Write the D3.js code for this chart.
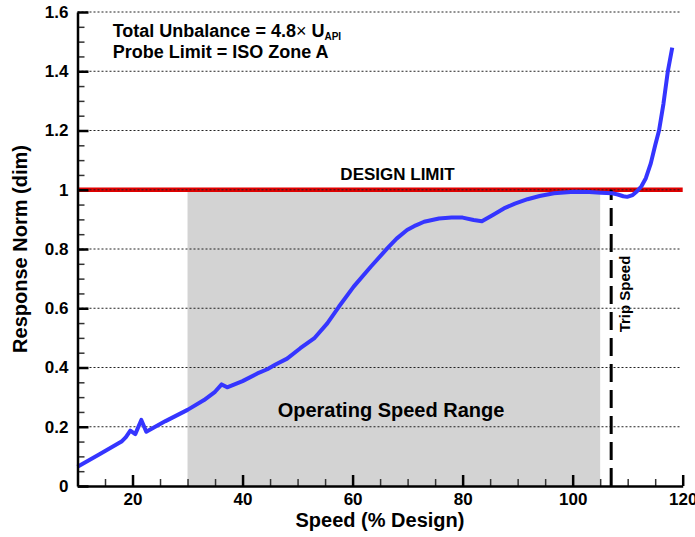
<!DOCTYPE html>
<html>
<head>
<meta charset="utf-8">
<script src="https://cdn.jsdelivr.net/npm/d3@7"></script>
<style>
  body { margin: 0; background: #fff; }
  text { font-family: "Liberation Sans", Arial, Helvetica, sans-serif; font-weight: bold; }
</style>
</head>
<body>
<div id="plotContainer"></div>
<script>
// values
const speed = [10, 14, 18, 18.8, 19.6, 20.5, 21.6, 22.5, 26, 30, 33, 35, 36.2, 37.2, 40,
  42.7, 44.5, 46, 48.1, 50.5, 53, 55.4, 57.5, 60.2, 63.3, 66.3, 68, 69.9, 71.5, 73,
  75.7, 78, 80, 82, 83.5, 85.5, 87.5, 89.5, 91.8, 94, 96.6, 100.2, 103, 105.1, 107.2,
  108.2, 109.2, 109.9, 110.9, 111.7, 112.5, 113.3, 114.2, 115, 115.7, 116.5, 117.3, 118.1];
const response = [0.065, 0.107, 0.15, 0.165, 0.187, 0.175, 0.223, 0.183, 0.219, 0.257, 0.29,
  0.318, 0.343, 0.333, 0.354, 0.38, 0.394, 0.41, 0.43, 0.465, 0.498, 0.549, 0.605, 0.673,
  0.74, 0.802, 0.835, 0.864, 0.88, 0.892, 0.903, 0.906, 0.906, 0.898, 0.894, 0.915, 0.937,
  0.953, 0.968, 0.979, 0.988, 0.993, 0.992, 0.99, 0.988, 0.984, 0.978, 0.976, 0.982, 0.995,
  1.012, 1.039, 1.089, 1.15, 1.2, 1.29, 1.40, 1.48];

const xMajorTicks = [20, 40, 60, 80, 100, 120];
const yMajorTicks = [0, 0.2, 0.4, 0.6, 0.8, 1, 1.2, 1.4, 1.6];
const gridValues = [0.2, 0.4, 0.6, 0.8, 1, 1.2, 1.4, 1.6];
const operatingRange = [30, 105];
const tripSpeed = 107;
const designLimit = 1;

const margin = {top: 12, right: 12.3, bottom: 51, left: 77.5},
    width = 695 - margin.left - margin.right,
    height = 537 - margin.top - margin.bottom;

const svg = d3.select("#plotContainer")
  .append("svg")
    .attr("width", 695)
    .attr("height", 537)
  .append("g")
    .attr("transform", `translate(${margin.left},${margin.top})`);

const x = d3.scaleLinear().domain([10, 120]).range([0, width]);
const y = d3.scaleLinear().domain([0, 1.6]).range([height, 0]);

// operating speed range shading
svg.append("rect")
  .attr("x", x(operatingRange[0]))
  .attr("y", y(designLimit))
  .attr("width", x(operatingRange[1]) - x(operatingRange[0]))
  .attr("height", y(0) - y(designLimit))
  .style("fill", "#d3d3d3");

// design limit line (under the grid)
svg.append("line")
  .attr("x1", 0).attr("x2", width)
  .attr("y1", y(designLimit)).attr("y2", y(designLimit))
  .style("stroke", "#e00000")
  .style("stroke-width", 4.5);

// dotted grid
svg.append("g")
  .selectAll("line")
  .data(gridValues)
  .enter()
  .append("line")
    .attr("x1", 0).attr("x2", width - 2)
    .attr("y1", d => y(d)).attr("y2", d => y(d))
    .style("stroke", "#222")
    .style("stroke-width", 1)
    .style("stroke-dasharray", "2,2");

// trip speed
svg.append("line")
  .attr("x1", x(tripSpeed)).attr("x2", x(tripSpeed))
  .attr("y1", y(0)).attr("y2", y(designLimit))
  .style("stroke", "#000")
  .style("stroke-width", 3)
  .style("stroke-dasharray", "18,8");

// response curve
const data = speed.map((s, i) => ({s: s, r: response[i]}));
svg.append("path")
  .datum(data)
  .attr("d", d3.line()
    .x(d => x(d.s))
    .y(d => y(d.r)))
  .style("fill", "none")
  .style("stroke", "#3535ff")
  .style("stroke-width", 4)
  .style("stroke-linejoin", "round");

// minor ticks
svg.append("g")
  .attr("transform", `translate(0, ${height})`)
  .call(d3.axisBottom(x).tickValues(d3.range(15, 120, 5)).tickSize(-7).tickFormat(""))
  .call(g => g.select(".domain").remove())
  .selectAll("line").style("stroke", "#333").style("stroke-width", 1.5);
svg.append("g")
  .call(d3.axisLeft(y).tickValues(d3.range(0.05, 1.6, 0.05)).tickSize(-7).tickFormat(""))
  .call(g => g.select(".domain").remove())
  .selectAll("line").style("stroke", "#333").style("stroke-width", 1.5);

// major axes
const xAxis = svg.append("g")
  .attr("transform", `translate(0, ${height})`)
  .call(d3.axisBottom(x).tickValues(xMajorTicks).tickSize(-11).tickSizeOuter(0).tickPadding(7));
const yAxis = svg.append("g")
  .call(d3.axisLeft(y).tickValues(yMajorTicks).tickSize(-11).tickSizeOuter(0).tickPadding(9)
    .tickFormat(d3.format("~g")));
[xAxis, yAxis].forEach(g => {
  g.select(".domain").style("stroke", "#000").style("stroke-width", 2.5);
  g.selectAll(".tick line").style("stroke", "#000").style("stroke-width", 2.5);
  g.selectAll(".tick text")
    .style("font-family", '"Liberation Sans", Arial, sans-serif')
    .style("font-weight", "bold")
    .style("font-size", "17px")
    .style("fill", "#000");
});

// axis titles
svg.append("text")
  .attr("x", 380 - margin.left)
  .attr("y", 527 - margin.top)
  .attr("text-anchor", "middle")
  .style("font-size", "20px")
  .text("Speed (% Design)");
svg.append("text")
  .attr("transform", `translate(${27 - margin.left}, ${height / 2}) rotate(-90)`)
  .attr("text-anchor", "middle")
  .style("font-size", "20px")
  .text("Response Norm (dim)");

// annotations
const note = svg.append("text")
  .attr("x", 112.7 - margin.left)
  .attr("y", 36.7 - margin.top)
  .style("font-size", "18px");
note.append("tspan").text("Total Unbalance = 4.8");
note.append("tspan").style("font-weight", "normal").text("\u00d7");
note.append("tspan").text(" U");
note.append("tspan").attr("dy", 3.5).style("font-size", "10px").text("API");

svg.append("text")
  .attr("x", 112.7 - margin.left)
  .attr("y", 57.7 - margin.top)
  .style("font-size", "18px")
  .text("Probe Limit = ISO Zone A");

svg.append("text")
  .attr("x", 397.5 - margin.left)
  .attr("y", 180 - margin.top)
  .attr("text-anchor", "middle")
  .style("font-size", "17px")
  .text("DESIGN LIMIT");

svg.append("text")
  .attr("x", 391 - margin.left)
  .attr("y", 417 - margin.top)
  .attr("text-anchor", "middle")
  .style("font-size", "20px")
  .text("Operating Speed Range");

svg.append("text")
  .attr("transform", `translate(${630 - margin.left}, ${294 - margin.top}) rotate(-90)`)
  .attr("text-anchor", "middle")
  .style("font-size", "15px")
  .text("Trip Speed");
</script>
</body>
</html>
